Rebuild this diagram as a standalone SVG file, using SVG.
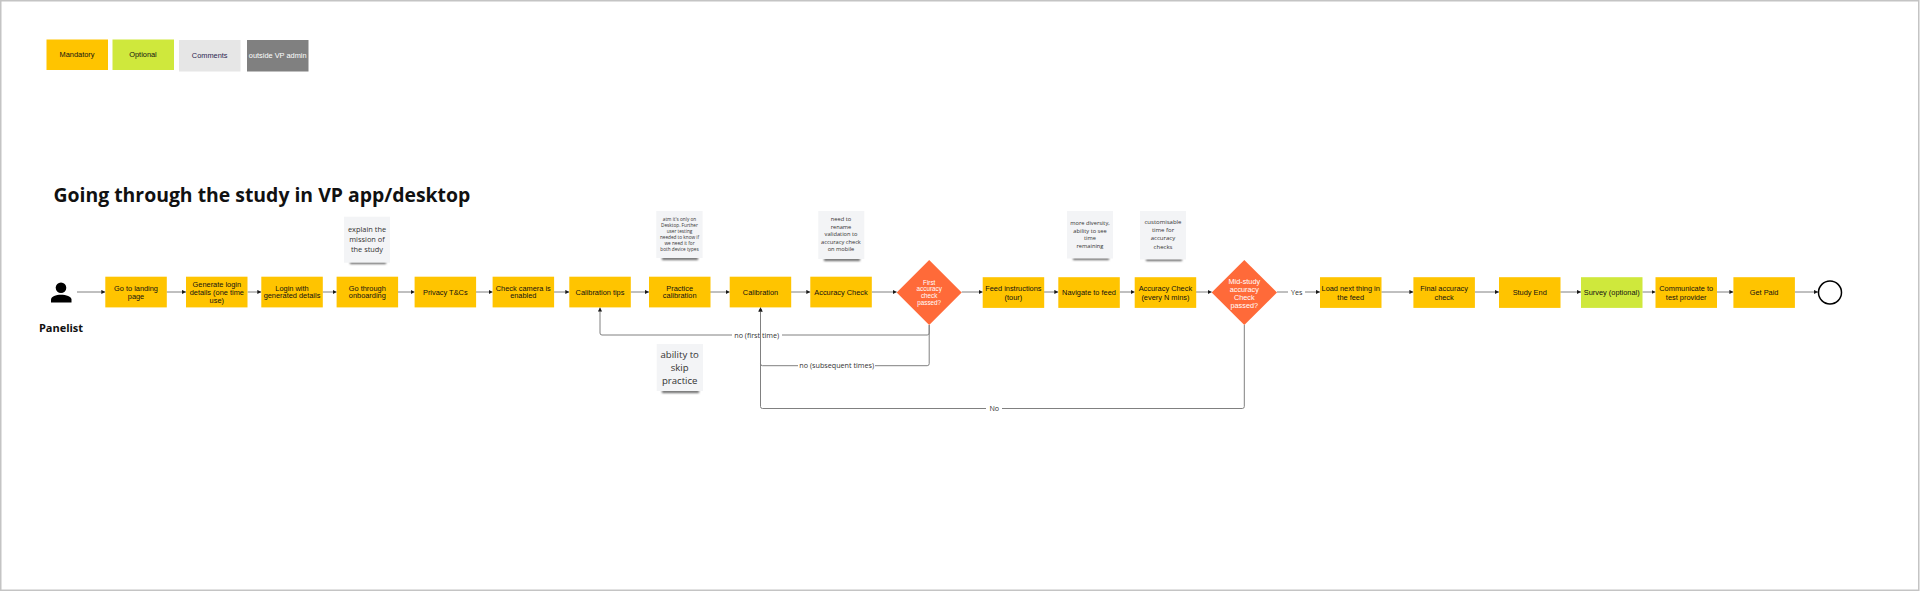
<svg xmlns="http://www.w3.org/2000/svg" width="1920" height="591" viewBox="0 0 1920 591">
<style>
text{font-family:"Liberation Sans",Arial,sans-serif;text-anchor:middle;font-size:7.4px;fill:#111}
.os{font-family:"Open Sans","Noto Sans",sans-serif;fill:#333}
.m{fill:#ffc400}.o{fill:#cfe83c}.c{fill:#e6e6e6}.g{fill:#808080}.d{fill:#ff6a39}
.n{fill:#f3f4f6}.s{fill:#666;filter:url(#b)}
.w{fill:#fff}
.l{fill:none;stroke:#808080;stroke-width:1;marker-end:url(#a)}
.lb{font-family:"Open Sans","Noto Sans",sans-serif;font-size:7.2px;fill:#333}
</style>
<defs>
<marker id="a" markerUnits="userSpaceOnUse" markerWidth="5" markerHeight="5" refX="4" refY="2.5" orient="auto"><path d="M0 0.4L4 2.5L0 4.6z" fill="#1a1a1a"/></marker>
<filter id="b" x="-20%" y="-200%" width="140%" height="500%"><feGaussianBlur stdDeviation="1.3"/></filter>
</defs>
<rect width="1920" height="591" fill="#fff"/>
<rect x="0.75" y="0.75" width="1918" height="589.5" fill="none" stroke="#c4c4c4" stroke-width="1.5"/>

<g id="legend">
<g id="legend-mandatory"><rect class="m" x="46.5" y="39.5" width="61.5" height="30.5"/><text x="77" y="57.2">Mandatory</text></g>
<g id="legend-optional"><rect class="o" x="112.5" y="39.5" width="61.5" height="30.5"/><text x="143" y="57.2">Optional</text></g>
<g id="legend-comments"><rect class="c" x="179" y="40" width="61.5" height="31.5"/><text x="209.7" y="58.2" style="fill:#2a2550">Comments</text></g>
<g id="legend-outside"><rect class="g" x="247" y="40" width="61.5" height="31.5"/><text x="277.7" y="58.2" style="fill:#fff">outside VP admin</text></g>
</g>

<text id="title" x="53.5" y="202" style="text-anchor:start;font-family:'Open Sans','Noto Sans',sans-serif;font-weight:700;font-size:19.4px;fill:#111">Going through the study in VP app/desktop</text>

<g id="connectors">
<path class="l" d="M77 292H105.3"/>
<path class="l" d="M166.6 292H186"/>
<path class="l" d="M247.6 292H261.3"/>
<path class="l" d="M322.6 292H336.6"/>
<path class="l" d="M398 292H414.6"/>
<path class="l" d="M476 292H492.6"/>
<path class="l" d="M554 292H569.3"/>
<path class="l" d="M630.6 292H649"/>
<path class="l" d="M710 292H729.7"/>
<path class="l" d="M791 292H810.3"/>
<path class="l" d="M871.7 292H896.7"/>
<path class="l" d="M961.7 292H982.7"/>
<path class="l" d="M1044 292H1058.3"/>
<path class="l" d="M1119.7 292H1134.7"/>
<path class="l" d="M1196 292H1211.7"/>
<path class="l" d="M1277 292H1320"/>
<path class="l" d="M1381.3 292H1413.4"/>
<path class="l" d="M1474.8 292H1499"/>
<path class="l" d="M1560.3 292H1581"/>
<path class="l" d="M1642.4 292H1655.5"/>
<path class="l" d="M1717 292H1733.4"/>
<path class="l" d="M1794.8 292H1818"/>
<rect class="w" x="1288" y="287" width="17" height="10"/><text class="lb" x="1296.7" y="294.6">Yes</text>
<path class="l" d="M929.2 325V333Q929.2 335 927.2 335H602Q600 335 600 333V307.5"/>
<rect class="w" x="732" y="330" width="50" height="10"/><text class="lb" x="756.7" y="337.6">no (first time)</text>
<path class="l" d="M929.2 325V363.7Q929.2 365.7 927.2 365.7H762.5Q760.5 365.7 760.5 363.7V307.5"/>
<rect class="w" x="798" y="360" width="77" height="11"/><text class="lb" x="836.7" y="368.3">no (subsequent times)</text>
<path class="l" d="M1244.3 325V406.5Q1244.3 408.5 1242.3 408.5H762.5Q760.5 408.5 760.5 406.5V307.5"/>
<rect class="w" x="986" y="403" width="16" height="11"/><text class="lb" x="994.3" y="411.1">No</text>
</g>

<g id="panelist"><circle cx="61" cy="287.7" r="5.3" fill="#000"/><path d="M51 302.5V299.5C51 296.5 56 294.7 61 294.7S71.5 296.5 71.5 299.5V302.5z" fill="#000"/><text x="61" y="331.7" style="font-family:'Open Sans','Noto Sans',sans-serif;font-weight:700;font-size:11px;fill:#111">Panelist</text></g>

<g id="n1"><rect class="m" x="105.3" y="276.7" width="61.5" height="30.7"/><text x="136" y="290.6">Go to landing</text><text x="136" y="298.6">page</text></g>
<g id="n2"><rect class="m" x="186" y="276.7" width="61.5" height="30.7"/><text x="216.8" y="286.5">Generate login</text><text x="216.8" y="294.6">details (one time</text><text x="216.8" y="302.7">use)</text></g>
<g id="n3"><rect class="m" x="261.3" y="276.7" width="61.5" height="30.7"/><text x="292" y="290.6">Login with</text><text x="292" y="298.4">generated details</text></g>
<g id="n4"><rect class="m" x="336.6" y="276.7" width="61.5" height="30.7"/><text x="367.3" y="290.6">Go through</text><text x="367.3" y="298.4">onboarding</text></g>
<g id="n5"><rect class="m" x="414.6" y="276.7" width="61.5" height="30.7"/><text x="445.3" y="294.6">Privacy T&amp;Cs</text></g>
<g id="n6"><rect class="m" x="492.6" y="276.7" width="61.5" height="30.7"/><text x="523.3" y="290.6">Check camera is</text><text x="523.3" y="298.4">enabled</text></g>
<g id="n7"><rect class="m" x="569.3" y="276.7" width="61.5" height="30.7"/><text x="600" y="294.6">Calibration tips</text></g>
<g id="n8"><rect class="m" x="649" y="276.7" width="61.5" height="30.7"/><text x="679.7" y="290.6">Practice</text><text x="679.7" y="298.4">calibration</text></g>
<g id="n9"><rect class="m" x="729.7" y="276.7" width="61.5" height="30.7"/><text x="760.5" y="294.6">Calibration</text></g>
<g id="n10"><rect class="m" x="810.3" y="276.7" width="61.5" height="30.7"/><text x="841" y="294.6">Accuracy Check</text></g>
<g id="d1"><path class="d" d="M929.2 260L961.7 292.5L929.2 325L896.7 292.5z"/><text x="929.2" y="284.7" style="font-size:6.3px;fill:#fff">First</text><text x="929.2" y="291.4" style="font-size:6.3px;fill:#fff">accuracy</text><text x="929.2" y="298" style="font-size:6.3px;fill:#fff">check</text><text x="929.2" y="304.8" style="font-size:6.3px;fill:#fff">passed?</text></g>
<g id="n11"><rect class="m" x="982.7" y="277.2" width="61.5" height="30.7"/><text x="1013.4" y="291">Feed instructions</text><text x="1013.4" y="299.6">(tour)</text></g>
<g id="n12"><rect class="m" x="1058.3" y="277.2" width="61.5" height="30.7"/><text x="1089" y="295">Navigate to feed</text></g>
<g id="n13"><rect class="m" x="1134.7" y="277.2" width="61.5" height="30.7"/><text x="1165.4" y="291">Accuracy Check</text><text x="1165.4" y="299.6">(every N mins)</text></g>
<g id="d2"><path class="d" d="M1244.3 260L1277 292.5L1244.3 325L1211.7 292.5z"/><text x="1244.3" y="283.6" style="font-size:7.3px;fill:#fff">Mid-study</text><text x="1244.3" y="291.7" style="font-size:7.3px;fill:#fff">accuracy</text><text x="1244.3" y="299.7" style="font-size:7.3px;fill:#fff">Check</text><text x="1244.3" y="307.7" style="font-size:7.3px;fill:#fff">passed?</text></g>
<g id="n14"><rect class="m" x="1320" y="277.2" width="61.5" height="30.7"/><text x="1350.7" y="291">Load next thing in</text><text x="1350.7" y="299.6">the feed</text></g>
<g id="n15"><rect class="m" x="1413.4" y="277.2" width="61.5" height="30.7"/><text x="1444.1" y="291">Final accuracy</text><text x="1444.1" y="299.6">check</text></g>
<g id="n16"><rect class="m" x="1499" y="277.2" width="61.5" height="30.7"/><text x="1529.7" y="295">Study End</text></g>
<g id="n17"><rect class="o" x="1581" y="277.2" width="61.5" height="30.7"/><text x="1611.7" y="295">Survey (optional)</text></g>
<g id="n18"><rect class="m" x="1655.5" y="277.2" width="61.5" height="30.7"/><text x="1686.2" y="291">Communicate to</text><text x="1686.2" y="299.6">test provider</text></g>
<g id="n19"><rect class="m" x="1733.4" y="277.2" width="61.5" height="30.7"/><text x="1764.1" y="295">Get Paid</text></g>
<g id="end"><circle cx="1830" cy="292.5" r="11.5" fill="#fff" stroke="#000" stroke-width="1.5"/></g>

<g id="note1"><rect class="s" x="350" y="261" width="36" height="3"/><rect class="n" x="344" y="216.7" width="46" height="46"/><text class="os" x="367" y="232" style="font-size:7.4px">explain the</text><text class="os" x="367" y="242" style="font-size:7.4px">mission of</text><text class="os" x="367" y="252" style="font-size:7.4px">the study</text></g>
<g id="note2"><rect class="s" x="662" y="257" width="36" height="3"/><rect class="n" x="656.3" y="211" width="46.3" height="47"/><text class="os" x="679.5" y="220.5" style="font-size:4.7px">atm it's only on</text><text class="os" x="679.5" y="226.7" style="font-size:4.7px">Desktop. Further</text><text class="os" x="679.5" y="232.9" style="font-size:4.7px">user testing</text><text class="os" x="679.5" y="239" style="font-size:4.7px">needed to know if</text><text class="os" x="679.5" y="245.2" style="font-size:4.7px">we need it for</text><text class="os" x="679.5" y="251.4" style="font-size:4.7px">both device types</text></g>
<g id="note3"><rect class="s" x="824" y="258" width="36" height="3"/><rect class="n" x="818.3" y="211" width="46" height="48"/><text class="os" x="841" y="221.2" style="font-size:5.7px">need to</text><text class="os" x="841" y="228.7" style="font-size:5.7px">rename</text><text class="os" x="841" y="236.2" style="font-size:5.7px">validation to</text><text class="os" x="841" y="243.7" style="font-size:5.7px">accuracy check</text><text class="os" x="841" y="251.2" style="font-size:5.7px">on mobile</text></g>
<g id="note4"><rect class="s" x="662" y="390" width="37" height="3"/><rect class="n" x="656.7" y="344" width="46.3" height="47"/><text class="os" x="679.7" y="358" style="font-size:9.6px">ability to</text><text class="os" x="679.7" y="370.8" style="font-size:9.6px">skip</text><text class="os" x="679.7" y="383.6" style="font-size:9.6px">practice</text></g>
<g id="note5"><rect class="s" x="1073" y="257" width="36" height="3"/><rect class="n" x="1067" y="211" width="46" height="47.5"/><text class="os" x="1090" y="225" style="font-size:5.7px">more diversity,</text><text class="os" x="1090" y="232.5" style="font-size:5.7px">ability to see</text><text class="os" x="1090" y="240" style="font-size:5.7px">time</text><text class="os" x="1090" y="247.5" style="font-size:5.7px">remaining</text></g>
<g id="note6"><rect class="s" x="1146" y="258" width="36" height="3"/><rect class="n" x="1140" y="211" width="46" height="48.5"/><text class="os" x="1163" y="224" style="font-size:6px">customisable</text><text class="os" x="1163" y="232.2" style="font-size:6px">time for</text><text class="os" x="1163" y="240.4" style="font-size:6px">accuracy</text><text class="os" x="1163" y="248.6" style="font-size:6px">checks</text></g>
</svg>
